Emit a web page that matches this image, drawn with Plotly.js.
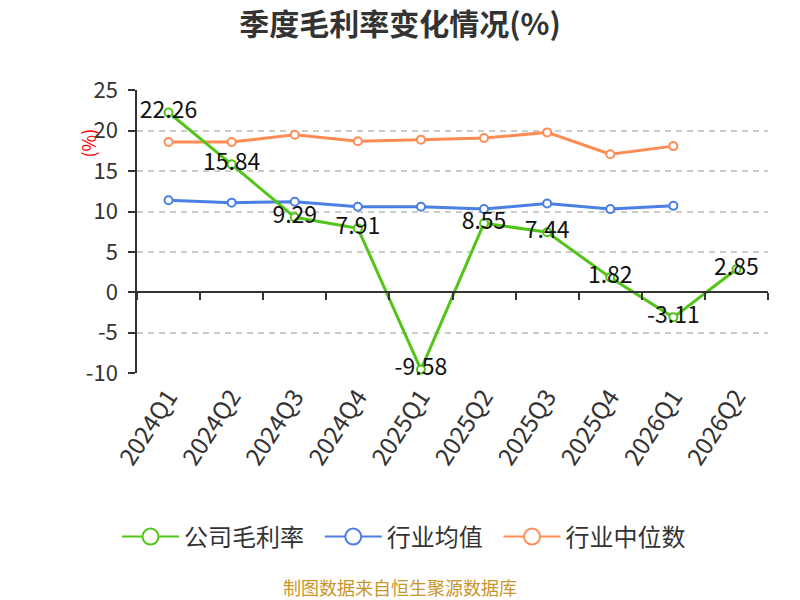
<!DOCTYPE html>
<html>
<head>
<meta charset="utf-8">
<script src="https://cdn.plot.ly/plotly-3.0.1.min.js"></script>
<style>
  html, body { margin: 0; padding: 0; background: #fff; }
  #myDiv { width: 800px; height: 600px; }
</style>
</head>
<body>
<div id="myDiv"></div>
<script>
const config = {
    displayModeBar: false,
};

// quarters on the x axis
var quarters = ['2024Q1', '2024Q2', '2024Q3', '2024Q4', '2025Q1',
                '2025Q2', '2025Q3', '2025Q4', '2026Q1', '2026Q2'];

// 公司毛利率
var companyMargin = [22.26, 15.84, 9.29, 7.91, -9.58, 8.55, 7.44, 1.82, -3.11, 2.85];
// 行业均值 (no value for the last quarter)
var industryMean = [11.4, 11.1, 11.2, 10.6, 10.6, 10.3, 11.0, 10.3, 10.7];
// 行业中位数
var industryMedian = [18.6, 18.6, 19.5, 18.7, 18.9, 19.1, 19.8, 17.1, 18.1];

// y tick labels, written with a plain hyphen as in the source chart
var yTicks = [-10, -5, 0, 5, 10, 15, 20, 25];

var names = ['公司毛利率', '行业均值', '行业中位数'];
var colors = ['#52c41a', '#4a7fe3', '#ff8c55'];

var fontCJK = '"Noto Sans CJK SC", "Noto Sans", sans-serif';

function markerStyle(c, size) {
    return { symbol: 'circle', size: size, color: '#ffffff', line: { color: c, width: 2 } };
}

var data = [
    {
        // carries the zero-line axis with the boundary ticks
        type: 'scatter',
        mode: 'lines',
        x: quarters,
        y: quarters.map(function () { return null; }),
        xaxis: 'x2',
        showlegend: false,
        hoverinfo: 'skip'
    },
    {
        type: 'scatter',
        mode: 'lines+markers',
        name: names[1],
        x: quarters.slice(0, industryMean.length),
        y: industryMean,
        showlegend: false,
        cliponaxis: false,
        line: { color: colors[1], width: 3 },
        marker: markerStyle(colors[1], 8)
    },
    {
        type: 'scatter',
        mode: 'lines+markers',
        name: names[2],
        x: quarters.slice(0, industryMedian.length),
        y: industryMedian,
        showlegend: false,
        cliponaxis: false,
        line: { color: colors[2], width: 3 },
        marker: markerStyle(colors[2], 8)
    },
    {
        type: 'scatter',
        mode: 'lines+markers+text',
        name: names[0],
        x: quarters,
        y: companyMargin,
        text: companyMargin.map(String),
        texttemplate: '%{text}',
        textposition: 'middle center',
        textfont: { family: fontCJK, size: 23, color: '#111111' },
        showlegend: false,
        cliponaxis: false,
        line: { color: colors[0], width: 3 },
        marker: markerStyle(colors[0], 8)
    }
];

// legend-only entries with larger symbols; a little trailing space widens the gap between items
names.forEach(function (n, i) {
    data.push({
        type: 'scatter',
        mode: 'lines+markers',
        name: i < names.length - 1 ? n + '\u00a0\u00a0' : n,
        x: [null],
        y: [null],
        line: { color: colors[i], width: 2 },
        marker: markerStyle(colors[i], 16),
        hoverinfo: 'skip'
    });
});

var yMin = -10, yMax = 25;

var layout = {
    width: 800,
    height: 600,
    margin: { l: 137, r: 32, t: 90, b: 227, pad: 0 },
    paper_bgcolor: '#ffffff',
    plot_bgcolor: '#ffffff',
    font: { family: fontCJK, size: 18, color: '#333333' },
    title: {
        text: '<b>季度毛利率变化情况(%)</b>',
        font: { family: fontCJK, size: 30, color: '#333333' },
        x: 0.5,
        xanchor: 'center',
        y: 1 - 24 / 600,
        yanchor: 'middle'
    },
    xaxis: {
        type: 'category',
        categoryorder: 'array',
        categoryarray: quarters,
        range: [-0.5, quarters.length - 0.5],
        showline: false,
        showgrid: false,
        zeroline: false,
        ticks: '',
        tickangle: -57,
        ticklabelstandoff: 4,
        tickfont: { family: fontCJK, size: 24, color: '#333333' },
        fixedrange: true
    },
    xaxis2: {
        type: 'category',
        overlaying: 'x',
        anchor: 'free',
        position: (0 - yMin) / (yMax - yMin),
        categoryorder: 'array',
        categoryarray: quarters,
        range: [-0.5, quarters.length - 0.5],
        showline: true,
        linecolor: '#333333',
        linewidth: 1.5,
        showgrid: false,
        zeroline: false,
        ticks: 'outside',
        tickson: 'boundaries',
        ticklen: 7,
        tickcolor: '#333333',
        tickwidth: 1.5,
        showticklabels: false
    },
    yaxis: {
        range: [yMin, yMax + 0.05],
        tickmode: 'array',
        tickvals: yTicks,
        ticktext: yTicks.map(String),
        showline: true,
        linecolor: '#333333',
        linewidth: 1.5,
        ticks: 'outside',
        ticklen: 7,
        tickcolor: '#333333',
        tickwidth: 1.5,
        ticklabelstandoff: 6,
        showgrid: true,
        gridcolor: '#cccccc',
        gridwidth: 1.5,
        griddash: '6px,5px',
        zeroline: false,
        tickfont: { family: fontCJK, size: 22, color: '#333333' },
        fixedrange: true
    },
    showlegend: true,
    legend: {
        orientation: 'h',
        x: 0.5 + 4 / 800,
        xref: 'container',
        xanchor: 'center',
        y: 1 - 537 / 600,
        yref: 'container',
        yanchor: 'middle',
        font: { family: fontCJK, size: 24, color: '#333333' },
        itemwidth: 57
    },
    annotations: [
        {
            text: '(%)',
            xref: 'paper',
            yref: 'paper',
            x: (72 - 137) / 631,
            y: (373 - 127) / 283,
            showarrow: false,
            textangle: -90,
            font: { family: fontCJK, size: 18, color: '#ff0000' }
        },
        {
            text: '制图数据来自恒生聚源数据库',
            xref: 'paper',
            yref: 'paper',
            x: (400 - 137) / 631,
            y: (373 - 587) / 283,
            xanchor: 'center',
            yanchor: 'middle',
            showarrow: false,
            font: { family: fontCJK, size: 18, color: '#c9962a' }
        }
    ]
};

Plotly.newPlot('myDiv', data, layout, config);
</script>
</body>
</html>
